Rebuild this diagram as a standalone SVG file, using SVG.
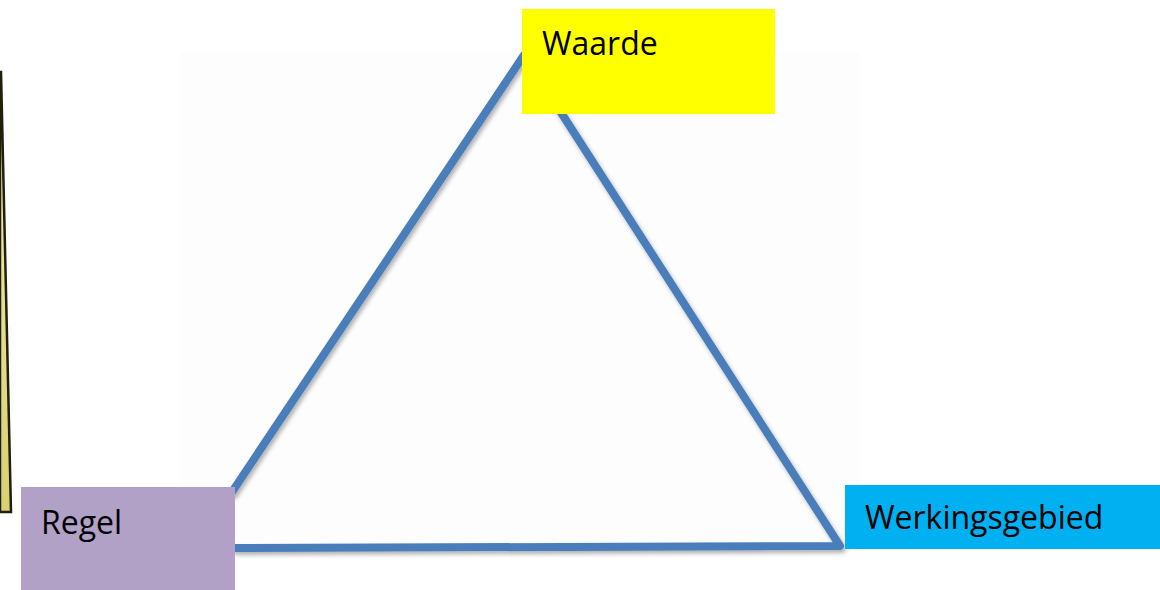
<svg xmlns="http://www.w3.org/2000/svg" width="1160" height="590" viewBox="0 0 1160 590">
<defs>
<style>
.lbl{font-family:"Open Sans","Liberation Sans",sans-serif;font-size:32px;fill:#000}
.edge{fill:none;stroke:#4a7ebb;stroke-width:8;stroke-linecap:round;stroke-linejoin:round}
</style>
<filter id="sh" x="-10%" y="-10%" width="120%" height="120%">
<feDropShadow dx="2" dy="3" stdDeviation="2" flood-color="#000" flood-opacity="0.3"/>
</filter>
<linearGradient id="yg" x1="0" y1="0" x2="0" y2="1">
<stop offset="0" stop-color="#f4f0c0"/>
<stop offset="1" stop-color="#d8d070"/>
</linearGradient>
</defs>
<rect width="1160" height="590" fill="#fff"/>
<rect x="180" y="52" width="680" height="500" fill="#fdfdfd"/>
<g id="side-shape">
<polygon points="0,72 1,72 11,512 0,512" fill="url(#yg)" stroke="#1f1f0a" stroke-width="2.5"/>
</g>
<g id="connectors" filter="url(#sh)">
<path class="edge" d="M232,492 L524,55 L840,546 L235,548"/>
</g>
<g id="waarde">
<rect x="522" y="9" width="253" height="105" fill="#ffff00"/>
<text class="lbl" x="542" y="55">Waarde</text>
</g>
<g id="regel">
<rect x="21" y="487" width="214" height="103" fill="#b2a1c7"/>
<text class="lbl" x="41" y="534">Regel</text>
</g>
<g id="werkingsgebied">
<rect x="845" y="485" width="315" height="64" fill="#00b0f0"/>
<text class="lbl" x="865" y="529">Werkingsgebied</text>
</g>
</svg>
